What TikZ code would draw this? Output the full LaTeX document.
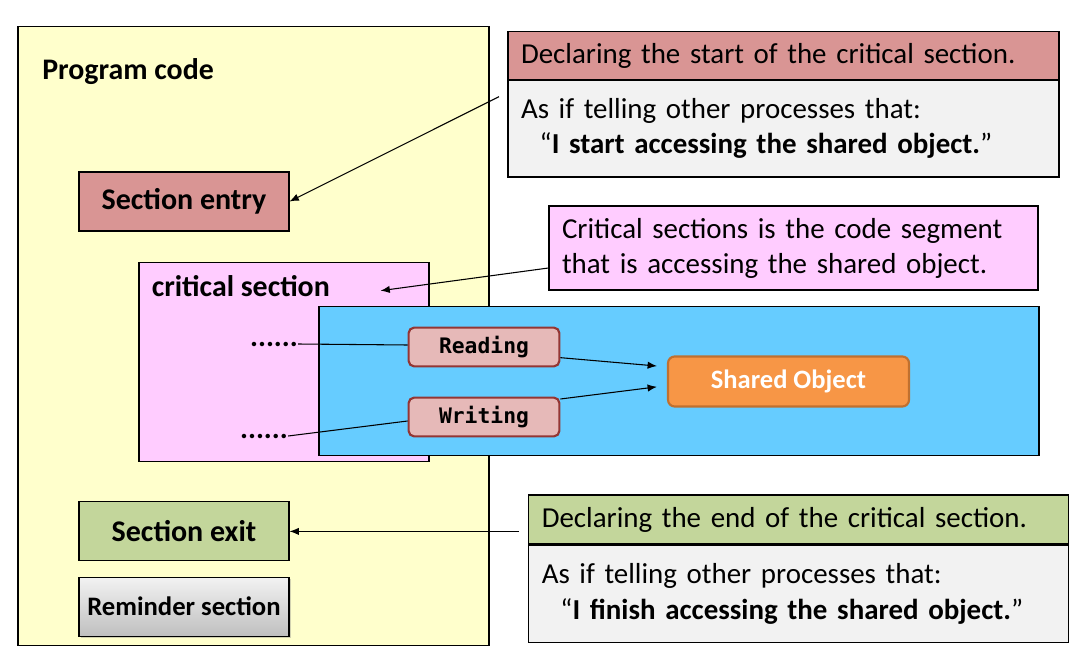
\documentclass[tikz,border=0pt]{standalone}
\usepackage{fontspec}
\setmainfont{Carlito}
\setmonofont{DejaVu Sans Mono}
\usepackage{tikz}
\usetikzlibrary{arrows.meta,positioning,shadows}

\definecolor{progyellow}{HTML}{FFFFCC}
\definecolor{entryred}{HTML}{D99594}
\definecolor{critpink}{HTML}{FFCCFF}
\definecolor{areablue}{HTML}{66CCFF}
\definecolor{opsfill}{HTML}{E6B9B8}
\definecolor{opsline}{HTML}{943634}
\definecolor{objfill}{HTML}{F79646}
\definecolor{objline}{HTML}{C0702F}
\definecolor{exitgreen}{HTML}{C3D69B}
\definecolor{notegrey}{HTML}{F2F2F2}

\begin{document}
\begin{tikzpicture}[
    x=0.75pt, y=-0.75pt,
    box/.style={draw, line width=0.8pt, inner sep=0pt},
    secbox/.style={box, minimum width=157.5pt, minimum height=44.25pt, font=\fontsize{22.5}{26}\selectfont\bfseries},
    label/.style={inner sep=0pt, font=\fontsize{22.4}{26}\selectfont\bfseries},
    ops/.style={draw=opsline, line width=1.6pt, rounded corners=4pt, fill=opsfill, minimum width=113pt, minimum height=29pt, inner sep=0pt, font=\ttfamily\bfseries\fontsize{16}{18}\selectfont},
    note/.style={box, align=left, inner xsep=9.75pt, font=\fontsize{21.7}{26.3}\selectfont},
    arr/.style={-{Latex[length=7pt,width=5.5pt]}, line width=0.8pt},
    plain/.style={line width=0.8pt}
]
\useasboundingbox (0,0) rectangle (1079,649);

\node[box, fill=progyellow, minimum width=353.25pt, minimum height=464.25pt] (prog) at (253.5,335.8) {};
\node[label, anchor=base west] (progname) at (42,80) {Program code};

\node[secbox, fill=entryred] (entry) at (184,201.5) {Section entry};
\node[box, fill=critpink, minimum width=217.5pt, minimum height=149.25pt] (crit) at (284,361.8) {};
\node[label, anchor=base west] (critname) at (151.5,296.5) {critical section};
\coordinate (critpt) at (380.5,290.7);

\node[box, fill=areablue, minimum width=540pt, minimum height=111.75pt] (area) at (679,381) {};
\node[label, anchor=base] (dotsA) at (274,346) {......};
\node[label, anchor=base] (dotsB) at (264,438) {......};
\node[ops] (reading) at (484,347) {Reading};
\node[ops] (writing) at (484,417) {Writing};
\node[draw=objline, line width=1.6pt, rounded corners=5pt, fill=objfill, minimum width=180.75pt, minimum height=37.5pt, inner sep=0pt, text=white, font=\fontsize{19.9}{22}\selectfont\bfseries] (shared) at (788.5,381.5) {Shared Object};

\node[secbox, fill=exitgreen] (exit) at (184,531.4) {Section exit};
\node[secbox, top color=notegrey, bottom color=black!25, drop shadow={opacity=0.35, shadow xshift=1.5pt, shadow yshift=-1.5pt}, font=\fontsize{20}{24}\selectfont\bfseries] (reminder) at (184,606.7) {Reminder section};

\node[note, fill=entryred, text width=393.75pt, minimum height=35.7pt] (startnote) at (783.5,55.5) {Declaring the start of the critical section.};
\node[note, fill=notegrey, text width=393.75pt, minimum height=72.5pt, below=0pt of startnote] (startbody) {As if telling other processes that:\\\hspace*{14pt}“\textbf{I start accessing the shared object.}”};
\coordinate (startpt) at (499,96.7);

\node[note, fill=critpink, text width=347.25pt, minimum height=63pt] (critnote) at (793.5,248) {Critical sections is the code segment\\that is accessing the shared object.};

\node[note, fill=exitgreen, text width=385.5pt, minimum height=36.75pt] (endnote) at (798.75,519.5) {Declaring the end of the critical section.};
\node[note, fill=notegrey, text width=385.5pt, minimum height=73.3pt, below=0pt of endnote] (endbody) {As if telling other processes that:\\\hspace*{14pt}“\textbf{I finish accessing the shared object.}”};
\coordinate (endpt) at (519,531.4);

\draw[arr] (startpt) -- (entry.east);
\draw[arr] ([yshift=-15pt]critnote.west) -- (critpt);
\draw[plain] (dotsA.east) -- ([yshift=1.5pt]reading.west);
\draw[plain] (dotsB.east) -- ([yshift=-3pt]writing.west);
\draw[arr] ([yshift=-8pt]reading.east) -- ([xshift=-7.5pt,yshift=11.6pt]shared.west);
\draw[arr] ([yshift=13.5pt]writing.east) -- ([xshift=-7.5pt,yshift=-4pt]shared.west);
\draw[arr] (endpt) -- (exit.east);
\end{tikzpicture}
\end{document}
